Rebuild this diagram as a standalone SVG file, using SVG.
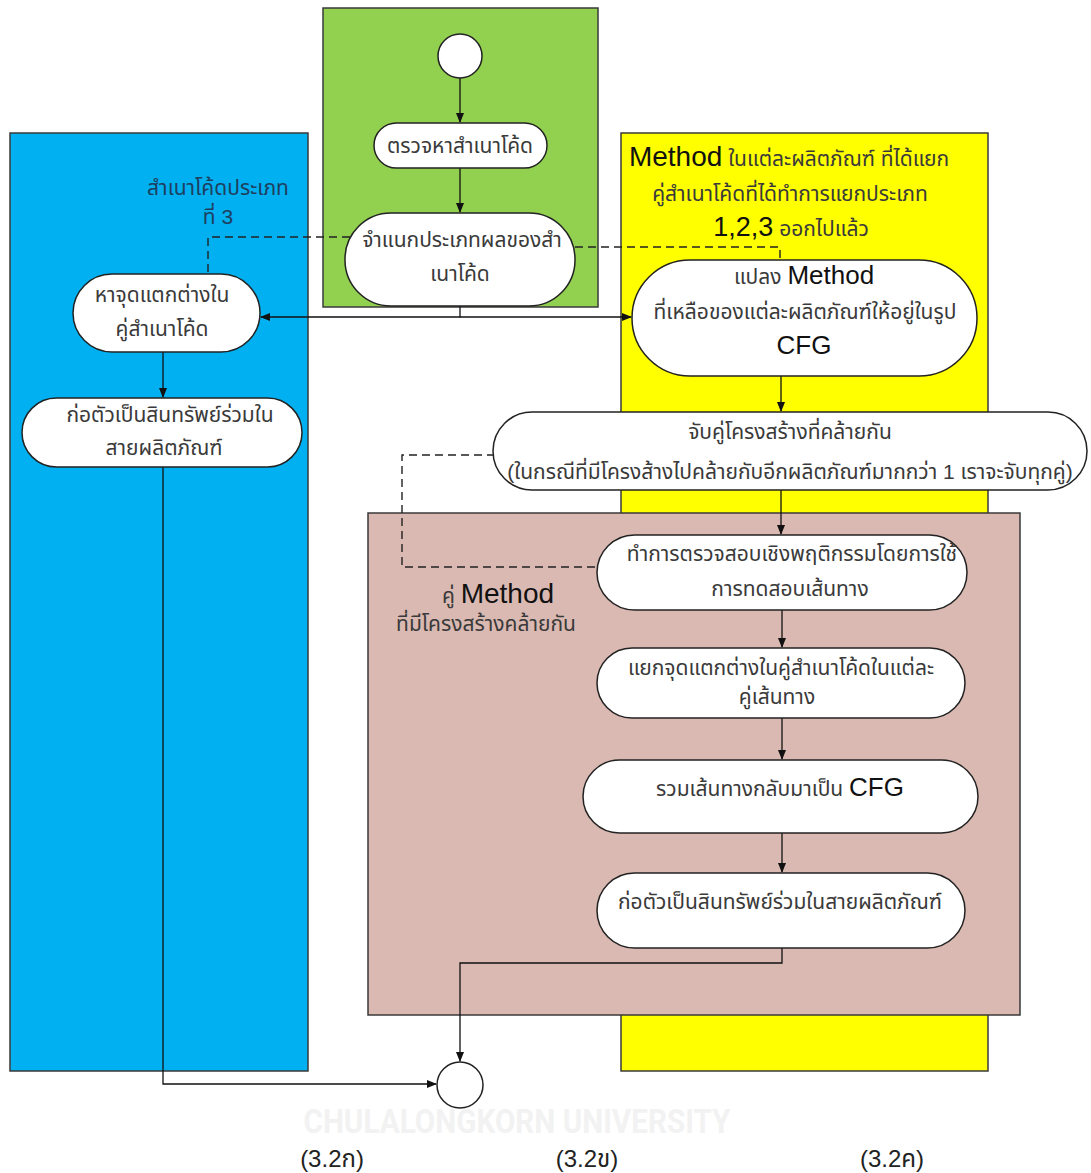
<svg xmlns="http://www.w3.org/2000/svg" width="1091" height="1173" viewBox="0 0 1091 1173">
  <defs>
    <marker id="arrow" markerWidth="10" markerHeight="8" refX="9" refY="4" orient="auto" markerUnits="userSpaceOnUse">
      <path d="M0,0 L10,4 L0,8 Z" fill="#111"/>
    </marker>
    <style>
      .lane { stroke: #3a3a3a; stroke-width: 1.5; }
      .node { fill: #ffffff; stroke: #222; stroke-width: 1.5; }
      .flow { fill: none; stroke: #111; stroke-width: 1.3; }
      .dash { fill: none; stroke: #222; stroke-width: 1.4; stroke-dasharray: 8 5; }
      .th { font-family: "Liberation Sans", "Noto Sans Thai", "Noto Sans", sans-serif; font-size: 21px; fill: #3a3a3a; text-anchor: middle; }
      .big { font-family: "Liberation Sans", Arial, sans-serif; font-size: 27px; fill: #111; }
      .cap { font-family: "Liberation Sans", "Noto Sans Thai", sans-serif; font-size: 24px; fill: #222; text-anchor: middle; }
    </style>
  </defs>

  <rect width="1091" height="1173" fill="#ffffff"/>

  <!-- swimlane backgrounds -->
  <g id="lanes">
    <rect id="lane-blue" class="lane" x="10" y="133" width="298" height="938" fill="#00B0F0"/>
    <rect id="lane-green" class="lane" x="323" y="8" width="275" height="299" fill="#92D050"/>
    <rect id="lane-yellow" class="lane" x="621" y="133" width="367" height="938" fill="#FFFF00"/>
    <rect id="lane-brown" class="lane" x="368" y="513" width="652" height="502" fill="#D9B9B1"/>
  </g>

  <!-- watermark -->
  <text x="517" y="1133" text-anchor="middle" font-family="Roboto, 'Liberation Sans', sans-serif" font-weight="bold" font-size="34" fill="#f2f2f2" textLength="427" lengthAdjust="spacingAndGlyphs">CHULALONGKORN UNIVERSITY</text>

  <!-- connectors -->
  <g id="connectors">
    <path class="flow" d="M460,78 V122" marker-end="url(#arrow)"/>
    <path class="flow" d="M460,168 V212" marker-end="url(#arrow)"/>
    <path class="flow" d="M460,306 V317 H261" marker-end="url(#arrow)"/>
    <path class="flow" d="M460,317 H631" marker-end="url(#arrow)"/>
    <path class="flow" d="M163,352 V397" marker-end="url(#arrow)"/>
    <path class="flow" d="M163,467 V1084 H436" marker-end="url(#arrow)"/>
    <path class="flow" d="M781,376 V411" marker-end="url(#arrow)"/>
    <path class="flow" d="M781,490 V534" marker-end="url(#arrow)"/>
    <path class="flow" d="M782,610 V647" marker-end="url(#arrow)"/>
    <path class="flow" d="M782,718 V759" marker-end="url(#arrow)"/>
    <path class="flow" d="M782,833 V872" marker-end="url(#arrow)"/>
    <path class="flow" d="M782,948 V963 H460 V1061" marker-end="url(#arrow)"/>
    <path class="dash" d="M350,237 H208 V274"/>
    <path class="dash" d="M575,247 H780 V260"/>
    <path class="dash" d="M495,455 H402 V567 H597"/>
  </g>

  <!-- start / end -->
  <g id="start"><circle cx="460" cy="56" r="22" class="node"/></g>
  <g id="end"><circle cx="460" cy="1085" r="23" class="node"/></g>

  <!-- green lane nodes -->
  <g id="detect">
    <rect class="node" x="374" y="123" width="173" height="45" rx="22.5"/>
    <text class="th" x="460" y="153">ตรวจหาสำเนาโค้ด</text>
  </g>
  <g id="classify">
    <rect class="node" x="345" y="213" width="230" height="93" rx="46"/>
    <text class="th" x="462" y="247">จำแนกประเภทผลของสำ</text>
    <text class="th" x="460" y="281">เนาโค้ด</text>
  </g>

  <!-- blue lane -->
  <g id="blue-label">
    <text class="th" x="218" y="195" style="fill:#1f3f60">สำเนาโค้ดประเภท</text>
    <text class="th" x="218" y="224" style="fill:#1f3f60">ที่ 3</text>
  </g>
  <g id="find-diff">
    <rect class="node" x="73" y="274" width="187" height="78" rx="39"/>
    <text class="th" x="162" y="302">หาจุดแตกต่างใน</text>
    <text class="th" x="162" y="336">คู่สำเนาโค้ด</text>
  </g>
  <g id="asset-a">
    <rect class="node" x="22" y="398" width="280" height="69" rx="34.5"/>
    <text class="th" x="170" y="422">ก่อตัวเป็นสินทรัพย์ร่วมใน</text>
    <text class="th" x="164" y="455">สายผลิตภัณฑ์</text>
  </g>

  <!-- yellow lane -->
  <g id="yellow-label">
    <text class="th" x="789" y="166"><tspan class="big" style="font-size:28px">Method</tspan> ในแต่ละผลิตภัณฑ์ ที่ได้แยก</text>
    <text class="th" x="790" y="201">คู่สำเนาโค้ดที่ได้ทำการแยกประเภท</text>
    <text class="th" x="791" y="236"><tspan class="big" style="font-size:27px">1,2,3</tspan> ออกไปแล้ว</text>
  </g>
  <g id="to-cfg">
    <rect class="node" x="632" y="260" width="345" height="116" rx="58"/>
    <text class="th" x="804" y="284">แปลง <tspan class="big" style="font-size:26px">Method</tspan></text>
    <text class="th" x="805" y="319">ที่เหลือของแต่ละผลิตภัณฑ์ให้อยู่ในรูป</text>
    <text class="big" x="804" y="354" text-anchor="middle" style="font-size:26px">CFG</text>
  </g>
  <g id="match">
    <rect class="node" x="493" y="412" width="594" height="78" rx="39"/>
    <text class="th" x="790" y="439">จับคู่โครงสร้างที่คล้ายกัน</text>
    <text class="th" x="790" y="479">(ในกรณีที่มีโครงส้างไปคล้ายกับอีกผลิตภัณฑ์มากกว่า 1 เราจะจับทุกคู่)</text>
  </g>

  <!-- brown lane -->
  <g id="brown-label">
    <text class="th" x="498" y="603">คู่ <tspan class="big" style="font-size:28px">Method</tspan></text>
    <text class="th" x="486" y="631">ที่มีโครงสร้างคล้ายกัน</text>
  </g>
  <g id="verify">
    <rect class="node" x="597" y="535" width="370" height="75" rx="37.5"/>
    <text class="th" x="792" y="561">ทำการตรวจสอบเชิงพฤติกรรมโดยการใช้</text>
    <text class="th" x="790" y="596">การทดสอบเส้นทาง</text>
  </g>
  <g id="split-diff">
    <rect class="node" x="597" y="648" width="368" height="70" rx="35"/>
    <text class="th" x="781" y="675">แยกจุดแตกต่างในคู่สำเนาโค้ดในแต่ละ</text>
    <text class="th" x="777" y="704">คู่เส้นทาง</text>
  </g>
  <g id="merge">
    <rect class="node" x="583" y="760" width="395" height="73" rx="36.5"/>
    <text class="th" x="780" y="796">รวมเส้นทางกลับมาเป็น <tspan class="big" style="font-size:26px">CFG</tspan></text>
  </g>
  <g id="asset-c">
    <rect class="node" x="597" y="873" width="368" height="75" rx="37.5"/>
    <text class="th" x="780" y="909">ก่อตัวเป็นสินทรัพย์ร่วมในสายผลิตภัณฑ์</text>
  </g>

  <!-- captions -->
  <g id="captions">
    <text class="cap" x="332" y="1167">(3.2ก)</text>
    <text class="cap" x="587" y="1167">(3.2ข)</text>
    <text class="cap" x="892" y="1167">(3.2ค)</text>
  </g>
</svg>
